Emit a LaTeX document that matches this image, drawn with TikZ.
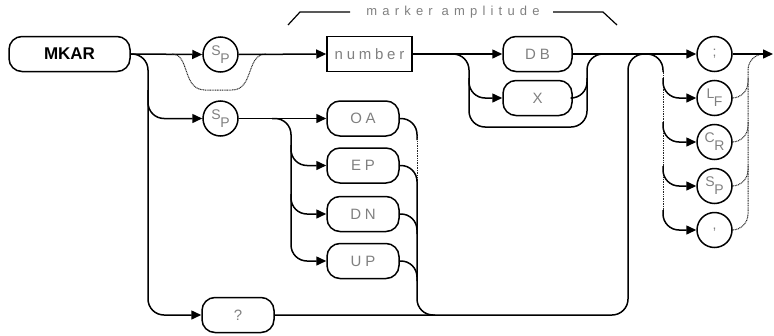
\documentclass[tikz,border=0pt]{standalone}
\usepackage{fontspec}
\setmainfont{Liberation Sans}
\newfontfamily\plotf[LetterSpace=25]{Liberation Sans}
\newfontfamily\plotg[LetterSpace=40]{Liberation Sans}
\usetikzlibrary{arrows.meta}
\newcommand\twol[2]{\raisebox{4pt}{#1}\kern-0.5pt\raisebox{-4pt}{#2}}
\begin{document}
\begin{tikzpicture}[x=1pt,y=-1pt,
  ln/.style={line width=1.5pt, line join=round},
  dl/.style={line width=1pt, dash pattern=on 1pt off 0.7pt, black!85},
  ar/.style={-{Triangle[length=10pt,width=9pt]}},
  rc/.style={rounded corners=16pt},
  kw/.style={draw, line width=1.5pt, rounded corners=13pt, minimum height=35pt, inner sep=0pt,
    font=\plotf\fontsize{15}{15}\selectfont, text=black!50},
  bx/.style={draw, line width=1.5pt, minimum height=35pt, inner sep=0pt,
    font=\plotf\fontsize{15}{15}\selectfont, text=black!50},
  ci/.style={draw, circle, line width=1.5pt, minimum size=35pt, inner sep=0pt,
    font=\plotf\fontsize{14}{14}\selectfont, text=black!50}
]
\useasboundingbox (0,0) rectangle (774,335);
% nodes
\node[kw, minimum width=121pt, text=black, font=\bfseries\fontsize{17}{17}\selectfont] (mk) at (69.5,54) {MKAR};
\node[ci] (sp1) at (220.5,54.5) {\twol{S}{P}};
\node[bx, minimum width=85pt] (num) at (369.5,54) {number};
\node[kw, minimum width=69pt] (db) at (537.5,54) {DB};
\node[kw, minimum width=69pt] (xx) at (537.5,98) {X};
\node[ci] (semi) at (714.5,54) {;};
\node[ci] (lf) at (714.5,98) {\twol{L}{F}};
\node[ci] (cr) at (714.5,142) {\twol{C}{R}};
\node[ci] (sp3) at (714.5,186) {\twol{S}{P}};
\node[ci] (cm) at (714.5,230) {,};
\node[ci] (sp2) at (220.5,118.5) {\twol{S}{P}};
\node[kw, minimum width=72pt] (oa) at (363,118.5) {OA};
\node[kw, minimum width=72pt] (ep) at (363,165.5) {EP};
\node[kw, minimum width=72pt] (dn) at (363,214) {DN};
\node[kw, minimum width=72pt] (up) at (363,261) {UP};
\node[kw, minimum width=72pt] (q) at (238,315) {?};
% label
\node[font=\plotg\fontsize{13}{13}\selectfont, text=black!50] (lbl) at (453,12) {marker amplitude};
\draw[line width=1.2pt] (288,25) -- (300,12) -- (350,12);
\draw[line width=1.2pt] (553,12) -- (603,12) -- (617,25);
% main row
\draw[ln,ar] (mk.east) -- (sp1.west);
\draw[ln,ar,rc] (mk.east) -- (148,54) -- (148,315) -- (q.west);
\draw[ln,ar,rc] (148,90) -- (148,118.5) -- (sp2.west);
\draw[dl] (172,54) .. controls (190,54) and (182,90) .. (205,90) -- (232,90) .. controls (254,90) and (246,54) .. (266,54);
\draw[ln,ar] (sp1.east) -- (num.west);
\draw[ln,ar] (num.east) -- (db.west);
\draw[ln,rc] (452,54) -- (469,54) -- (469,127) -- (587,127) -- (587,54) -- (604,54);
\draw[ln,ar,rc] (469,78) -- (469,98) -- (xx.west);
\draw[ln,rc] (xx.east) -- (587,98) -- (587,78);
\draw[ln,ar] (db.east) -- (semi.west);
% loop back
\draw[ln,rc] (q.east) -- (628,315) -- (628,54) -- (646,54);
\draw[ln,rc] (646,54) -- (663,54) -- (663,72);
\draw[dl] (663,70) -- (663,214);
\foreach \n/\y in {lf/98,cr/142,sp3/186,cm/230}{
  \draw[ln,ar,rc] (663,\y-20) -- (663,\y) -- (\n.west);
}
\draw[dl,rc] (cm.east) -- (748,230) -- (748,54) -- (766,54);
\foreach \n/\y in {lf/98,cr/142,sp3/186}{
  \draw[dl,rc] (\n.east) -- (748,\y) -- (748,\y-20);
}
\draw[ln,ar] (semi.east) -- (773,54);
% OA group
\draw[ln,ar] (sp2.east) -- (oa.west);
\draw[ln,ar,rc] (272,118.5) -- (291,118.5) -- (291,261) -- (up.west);
\draw[ln,ar,rc] (291,145) -- (291,165.5) -- (ep.west);
\draw[ln,ar,rc] (291,194) -- (291,214) -- (dn.west);
\draw[ln,rc] (oa.east) -- (417,118.5) -- (417,140);
\draw[dl] (417,136) -- (417,186);
\draw[ln,rc] (ep.east) -- (417,165.5) -- (417,315) -- (435,315);
\draw[ln,rc] (dn.east) -- (417,214) -- (417,234);
\draw[ln,rc] (up.east) -- (417,261) -- (417,281);
\end{tikzpicture}
\end{document}
